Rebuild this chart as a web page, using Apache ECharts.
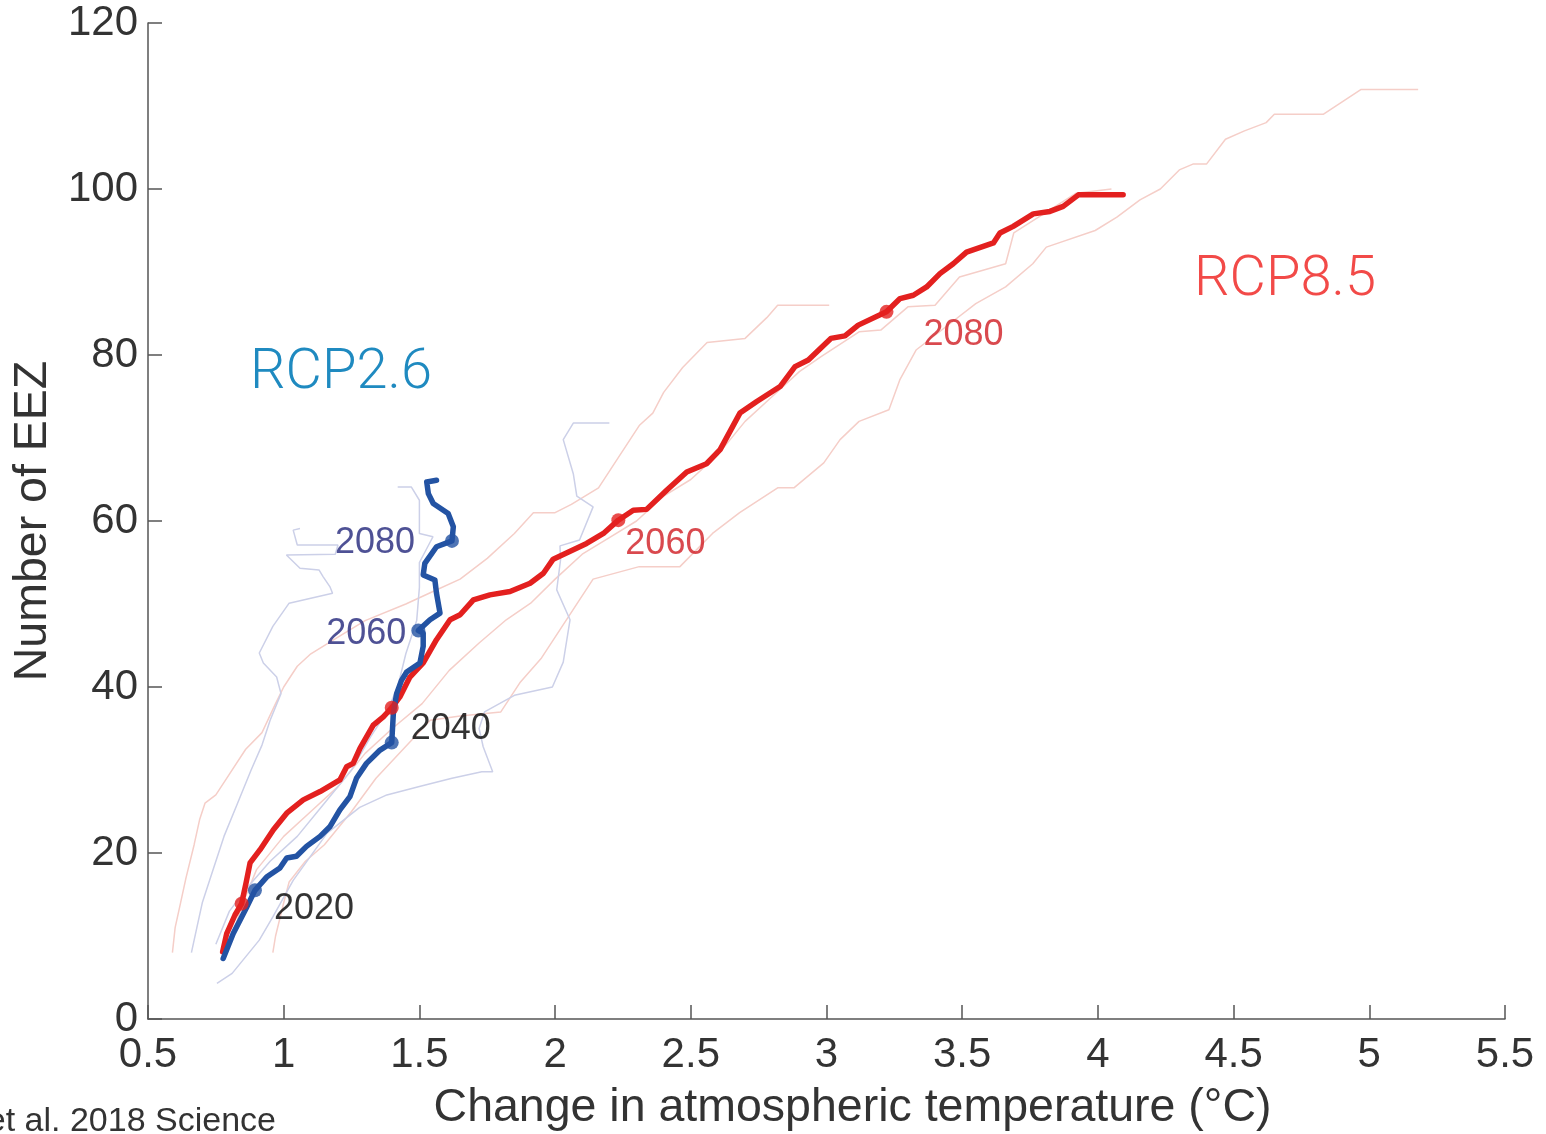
<!DOCTYPE html>
<html>
<head>
<meta charset="utf-8">
<script src="https://cdn.jsdelivr.net/npm/echarts@6/dist/echarts.min.js"></script>
<style>
html,body{margin:0;padding:0;background:#fff;}
#chart{width:1546px;height:1134px;}
</style>
</head>
<body>
<div id="chart"></div>
<script>
// ---- data ----
const xTicks = [0.5, 1, 1.5, 2, 2.5, 3, 3.5, 4, 4.5, 5, 5.5];
const yTicks = [0, 20, 40, 60, 80, 100, 120];

const rcp85Mean = [[0.775,8.1],[0.79,10.3],[0.82,12.5],[0.845,13.9],[0.862,16.5],[0.876,18.8],[0.913,20.4],[0.962,22.8],[1.011,24.8],[1.072,26.4],[1.134,27.4],[1.207,28.8],[1.232,30.4],[1.256,30.8],[1.281,32.6],[1.33,35.4],[1.367,36.4],[1.398,37.5],[1.428,38.8],[1.465,41.2],[1.514,42.9],[1.563,45.7],[1.613,48.1],[1.65,48.7],[1.699,50.5],[1.76,51.1],[1.834,51.5],[1.908,52.5],[1.957,53.7],[1.993,55.4],[2.116,57.3],[2.178,58.5],[2.233,60.1],[2.288,61.3],[2.337,61.4],[2.411,63.7],[2.485,65.9],[2.558,66.9],[2.608,68.6],[2.681,73.0],[2.743,74.4],[2.829,76.2],[2.884,78.6],[2.933,79.4],[3.016,82.0],[3.068,82.3],[3.117,83.6],[3.221,85.2],[3.271,86.8],[3.32,87.2],[3.369,88.2],[3.418,89.8],[3.467,91.0],[3.516,92.4],[3.615,93.5],[3.639,94.7],[3.688,95.5],[3.762,97.0],[3.823,97.3],[3.872,97.9],[3.928,99.3],[4.093,99.3]];

const rcp26Mean = [[0.777,7.3],[0.814,10.3],[0.864,13.5],[0.894,15.5],[0.937,17.1],[0.986,18.2],[1.011,19.4],[1.047,19.6],[1.084,20.8],[1.134,22.0],[1.171,23.2],[1.207,25.2],[1.244,26.8],[1.268,29.0],[1.305,30.8],[1.355,32.4],[1.398,33.3],[1.404,36.8],[1.416,39.2],[1.434,40.8],[1.453,41.8],[1.502,42.9],[1.514,44.9],[1.514,46.5],[1.496,46.8],[1.539,48.1],[1.576,48.9],[1.563,51.3],[1.557,52.9],[1.514,53.5],[1.52,54.9],[1.563,56.9],[1.62,57.6],[1.625,59.3],[1.606,60.9],[1.551,62.1],[1.533,63.3],[1.527,64.7],[1.563,64.9]];

// individual model runs (thin lines)
const rcp85ModelA = [[0.59,8],[0.6,11],[0.62,14],[0.64,17],[0.67,21],[0.69,24],[0.71,26],[0.75,27],[0.8,29.5],[0.86,32.5],[0.92,34.5],[0.97,38],[1.0,40],[1.05,42.5],[1.1,44],[1.2,46],[1.3,48],[1.45,50],[1.55,51.5],[1.65,53],[1.75,55.5],[1.85,58.5],[1.92,61],[2.0,61],[2.06,62],[2.16,64],[2.24,68],[2.31,71.5],[2.36,73],[2.4,75.5],[2.47,78.5],[2.56,81.5],[2.7,82],[2.78,84.5],[2.82,86],[3.01,86]];
const rcp85ModelB = [[0.8,9],[0.85,14],[0.9,18],[1.0,22],[1.1,25],[1.2,28],[1.3,32],[1.4,35],[1.51,38],[1.61,42],[1.72,45.3],[1.82,48.1],[1.91,50.1],[2.0,53],[2.1,56],[2.2,58],[2.3,60],[2.4,63],[2.5,65],[2.6,68],[2.7,72],[2.8,75],[2.9,78],[2.98,79.8],[3.12,82.8],[3.2,83],[3.3,85.8],[3.4,86],[3.49,89.4],[3.66,91],[3.69,94.7],[3.8,97],[3.92,99.5],[4.05,100]];
const rcp85ModelC = [[0.96,8],[0.97,10],[1.0,14],[1.02,16.5],[1.08,19],[1.15,21],[1.25,25],[1.34,29],[1.44,32.5],[1.54,36],[1.65,36.5],[1.8,37],[1.87,40.5],[1.95,43.5],[2.02,47],[2.14,53],[2.31,54.5],[2.46,54.5],[2.58,58.5],[2.68,61],[2.82,64],[2.88,64],[2.99,67],[3.05,69.8],[3.12,72],[3.23,73.4],[3.27,77],[3.33,80.6],[3.44,83.4],[3.55,86.2],[3.66,88.2],[3.76,91],[3.81,93],[3.99,95],[4.07,96.6],[4.155,98.7],[4.23,100],[4.3,102.3],[4.35,103],[4.4,103],[4.47,106],[4.54,107],[4.62,108],[4.65,109],[4.83,109],[4.97,112],[5.18,112]];

const rcp26ModelA = [[0.66,8],[0.68,11],[0.7,14],[0.74,18],[0.78,22],[0.83,26],[0.88,30],[0.92,33],[0.95,36],[0.99,39.2],[0.974,41.2],[0.925,42.9],[0.91,44.1],[0.96,47.3],[1.02,50.1],[1.18,51.3],[1.17,52.1],[1.145,53.3],[1.13,54.1],[1.06,54.3],[1.01,55.9],[1.19,56],[1.2,57.1],[1.05,57.1],[1.035,58.9],[1.06,59.1]];
const rcp26ModelB = [[0.75,9],[0.8,13],[0.87,16],[0.95,19],[1.05,22],[1.15,26],[1.25,30],[1.32,34],[1.38,37],[1.42,40],[1.45,44],[1.49,48],[1.5,52],[1.5,55],[1.55,58.1],[1.5,58.5],[1.5,62.5],[1.47,64.1],[1.42,64.1]];
const rcp26ModelC = [[0.754,4.3],[0.81,5.5],[0.91,9.5],[0.96,12.3],[1.035,16.7],[1.16,22.4],[1.28,25.5],[1.38,27],[1.5,28],[1.62,29],[1.73,29.8],[1.77,29.8],[1.735,32.8],[1.72,35],[1.74,37],[1.85,39],[1.99,40],[2.03,43],[2.055,48.1],[2.006,51.7],[2.02,55.3],[2.018,57],[2.09,57.7],[2.14,61.7],[2.08,63],[2.067,65.7],[2.03,69.8],[2.067,71.8],[2.2,71.8]];

const markerYears = ['2020', '2040', '2060', '2080'];
const rcp85Markers = [[0.845,13.9],[1.398,37.5],[2.233,60.1],[3.221,85.2]];
const rcp26Markers = [[0.894,15.5],[1.398,33.3],[1.496,46.8],[1.62,57.6]];

// ---- styles ----
const RED = '#e3201f', BLUE = '#2353a3';
const RED_THIN = '#f5cec8', BLUE_THIN = '#ccd0e8';
const FONT = '"Liberation Sans", Arial, Helvetica, sans-serif';

function thin(data, color) {
  return { type: 'line', data: data, showSymbol: false, symbol: 'none', silent: true,
    lineStyle: { color: color, width: 1.5 }, z: 1, animation: false };
}

// label placements (layout, not data)
const rcp85LabelStyle = [
  null, null,
  { show: true, position: 'right', distance: 0, offset: [0, 24], color: '#d01c22' },
  { show: true, position: 'right', distance: 30, offset: [0, 23], color: '#d01c22' }
];
const rcp26LabelStyle = [
  { show: true, position: 'right', distance: 12, offset: [0, 19], color: '#000' },
  { show: true, position: 'right', distance: 12, offset: [0, -14], color: '#000' },
  { show: true, position: 'left', distance: 5, offset: [0, 4], color: '#22267a' },
  { show: true, position: 'left', distance: 30, offset: [0, 2], color: '#22267a' }
];

function markers(pts, labels) {
  return pts.map((p, i) => ({
    value: p,
    name: markerYears[i],
    label: labels[i] ? Object.assign({ formatter: markerYears[i], fontSize: 36, fontFamily: FONT }, labels[i]) : { show: false }
  }));
}

const chart = echarts.init(document.getElementById('chart'), null, { renderer: 'canvas' });
chart.setOption({
  backgroundColor: '#fff',
  animation: false,
  grid: { left: 148, right: 41, top: 23, bottom: 115, containLabel: false, outerBoundsMode: 'none' },
  xAxis: {
    type: 'value', min: xTicks[0], max: xTicks[xTicks.length - 1], interval: 0.5,
    name: 'Change in atmospheric temperature (°C)', nameLocation: 'middle', nameGap: 66,
    nameTextStyle: { fontSize: 46.5, color: '#333', fontFamily: FONT, padding: [0, 0, 0, 52] },
    axisLine: { show: true, lineStyle: { color: '#555', width: 1.5 } },
    axisTick: { show: true, inside: true, length: 14, lineStyle: { color: '#555', width: 1.5 } },
    splitLine: { show: false },
    axisLabel: { fontSize: 42, color: '#333', fontFamily: FONT, margin: 15, showMinLabel: true, showMaxLabel: true,
      formatter: v => String(v) }
  },
  yAxis: {
    type: 'value', min: yTicks[0], max: yTicks[yTicks.length - 1], interval: 20,
    name: 'Number of EEZ', nameLocation: 'middle', nameGap: 90,
    nameTextStyle: { fontSize: 46.5, color: '#333', fontFamily: FONT },
    axisLine: { show: true, lineStyle: { color: '#555', width: 1.5 } },
    axisTick: { show: true, inside: true, length: 14, lineStyle: { color: '#555', width: 1.5 } },
    splitLine: { show: false },
    axisLabel: { fontSize: 42, color: '#333', fontFamily: FONT, margin: 10, showMinLabel: true, showMaxLabel: true }
  },
  series: [
    thin(rcp85ModelA, RED_THIN),
    thin(rcp85ModelB, RED_THIN),
    thin(rcp85ModelC, RED_THIN),
    thin(rcp26ModelA, BLUE_THIN),
    thin(rcp26ModelB, BLUE_THIN),
    thin(rcp26ModelC, BLUE_THIN),
    { type: 'line', data: rcp85Mean, showSymbol: false, symbol: 'none', z: 3,
      lineStyle: { color: RED, width: 5.5, join: 'round', cap: 'round' } },
    { type: 'line', data: rcp26Mean, showSymbol: false, symbol: 'none', z: 4,
      lineStyle: { color: BLUE, width: 5.5, join: 'round', cap: 'round' } },
    { type: 'scatter', data: markers(rcp26Markers, rcp26LabelStyle), symbolSize: 14, z: 5,
      itemStyle: { color: BLUE } },
    { type: 'scatter', data: markers(rcp85Markers, rcp85LabelStyle), symbolSize: 14, z: 6,
      itemStyle: { color: RED } }
  ],
  graphic: [
    { type: 'text', left: 250, top: 346, style: { text: 'RCP2.6', fontSize: 56, fontWeight: 300, fontFamily: '"Roboto", ' + FONT, fill: '#1f8ac0' } },
    { type: 'text', left: 1194, top: 253, style: { text: 'RCP8.5', fontSize: 56, fontWeight: 300, fontFamily: '"Roboto", ' + FONT, fill: '#f24a48' } },
    { type: 'text', right: 1546 - 276, top: 1105, style: { text: 'Cheung et al. 2018 Science', fontSize: 34, fontFamily: FONT, fill: '#333' } }
  ]
});
</script>
</body>
</html>
